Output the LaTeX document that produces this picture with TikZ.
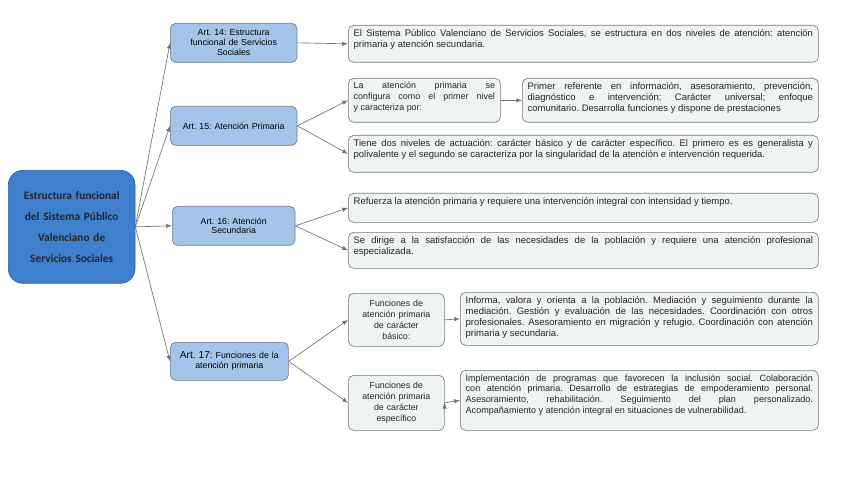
\documentclass[tikz,border=0pt]{standalone}
\usepackage{fontspec}
\setmainfont{Liberation Sans}
\newfontfamily\rootfont{Carlito}
\usetikzlibrary{calc}
\definecolor{rootfill}{RGB}{62,127,206}
\definecolor{rootline}{RGB}{47,95,154}
\definecolor{artfill}{RGB}{164,197,233}
\definecolor{artline}{RGB}{108,122,138}
\definecolor{boxfill}{RGB}{238,244,240}
\definecolor{boxline}{RGB}{122,122,122}
\frenchspacing
\tikzset{
artnode/.style  = {shape=rectangle, rounded corners=4pt,
                   draw=artline, fill=artfill, anchor=north west,
                   align=center, inner sep=2pt,
                   font=\fontsize{6.6}{7.4}\selectfont},
rootnode/.style = {artnode, rounded corners=11pt,
                   fill=rootfill, draw=rootline, text=black!85,
                   font=\rootfont\bfseries\fontsize{8.5}{15.8}\selectfont},
infonode/.style = {shape=rectangle, rounded corners=4pt,
                   draw=boxline, fill=boxfill, anchor=north west,
                   inner xsep=4pt, inner ysep=3pt, text=black!85,
                   font=\fontsize{7.1}{8.2}\selectfont},
funcnode/.style = {infonode, align=center, inner sep=2pt,
                   text width=68pt, minimum height=39.75pt,
                   font=\fontsize{6.6}{8.2}\selectfont}
}
\newcommand{\para}[3]{\parbox[c][#2][t]{#1}{\hyphenpenalty=10000
    \exhyphenpenalty=10000 \emergencystretch=3em #3}}

\begin{document}
\begin{tikzpicture}[x=0.75pt, y=-0.75pt, -latex, draw=black!55, line width=0.5pt]
\useasboundingbox (0,0) rectangle (848,477);

% root and articles
\node[rootnode, text width=91pt, minimum height=84.75pt] (root) at (8,170)
    {Estructura funcional\\del Sistema P\'ublico\\Valenciano de\\Servicios Sociales};
\node[artnode, text width=91pt, minimum height=29.25pt] (art14) at (170,23)
    {Art. 14: Estructura\\funcional de Servicios\\Sociales};
\node[artnode, text width=91pt, minimum height=29.25pt] (art15) at (170,106)
    {Art. 15: Atenci\'on Primaria};
\node[artnode, text width=88pt, minimum height=29.25pt] (art16) at (172,206)
    {Art. 16: Atenci\'on\\Secundaria};
\node[artnode, text width=84.5pt, minimum height=28.5pt] (art17) at (170,342)
    {{\fontsize{7.6}{7.6}\selectfont Art. 17:} Funciones de la\\atenci\'on primaria};

% texts
\node[infonode] (sistema) at (348,25) {\para{344.5pt}{21.75pt}{El Sistema P\'ublico
    Valenciano de Servicios Sociales, se estructura en dos niveles de atenci\'on:
    atenci\'on primaria y atenci\'on secundaria.}};
\node[infonode] (primaria) at (348,78) {\para{106pt}{27pt}{\fontsize{6.7}{8.2}\selectfont
    La atenci\'on primaria se\linebreak configura como el primer nivel\linebreak
    y caracteriza por:}};
\node[infonode] (referente) at (522,78) {\para{214pt}{27pt}{Primer referente en
    informaci\'on, asesoramiento, prevenci\'on, diagn\'ostico e intervenci\'on;
    Car\'acter universal; enfoque\linebreak comunitario. Desarrolla funciones y
    dispone de prestaciones}};
\node[infonode] (niveles) at (348,135) {\para{344.5pt}{21.75pt}{Tiene dos niveles de
    actuaci\'on: car\'acter b\'asico y de car\'acter espec\'ifico. El primero es es
    generalista y polivalente y el segundo se caracteriza por la singularidad de la
    atenci\'on e intervenci\'on requerida.}};
\node[infonode] (refuerza) at (348,193) {\para{344.5pt}{15.75pt}{Refuerza la atenci\'on
    primaria y requiere una intervenci\'on integral con intensidad y tiempo.}};
\node[infonode] (dirige) at (348,232) {\para{344.5pt}{21pt}{Se dirige a la
    satisfacci\'on de las necesidades de la poblaci\'on y requiere una atenci\'on
    profesional\linebreak especializada.}};
\node[funcnode] (basico) at (348,293)
    {Funciones de\\atenci\'on primaria\\de car\'acter\\b\'asico:};
\node[funcnode, minimum height=41.25pt] (especifico) at (348,375)
    {Funciones de\\atenci\'on primaria\\de car\'acter\\espec\'ifico};
\node[infonode] (informa) at (460,292) {\para{260.5pt}{33.75pt}{Informa, valora y
    orienta a la poblaci\'on. Mediaci\'on y seguimiento durante la mediaci\'on.
    Gesti\'on y evaluaci\'on de las necesidades. Coordinaci\'on con otros
    profesionales. Asesoramiento en migraci\'on y refugio. Coordinaci\'on con
    atenci\'on primaria y secundaria.}};
\node[infonode] (implementa) at (460,370) {\para{260.5pt}{39pt}{\fontsize{6.8}{8.2}\selectfont
    Implementaci\'on de programas que favorecen la inclusi\'on social.
    Colaboraci\'on\linebreak con atenci\'on primaria. Desarrollo de estrategias de
    empoderamiento personal.\linebreak Asesoramiento, rehabilitaci\'on. Seguimiento
    del plan personalizado.\linebreak Acompa\~namiento y atenci\'on integral en
    situaciones de vulnerabilidad.}};

% connectors
\draw \foreach \x/\y in {root/art14, root/art15, root/art16, root/art17,
    art14/sistema, art15/primaria, art15/niveles, primaria/referente,
    art16/refuerza, art16/dirige, art17/basico, art17/especifico,
    basico/informa, especifico/implementa} {
    (\x.east) edge (\y.west)
};
\end{tikzpicture}
\end{document}
